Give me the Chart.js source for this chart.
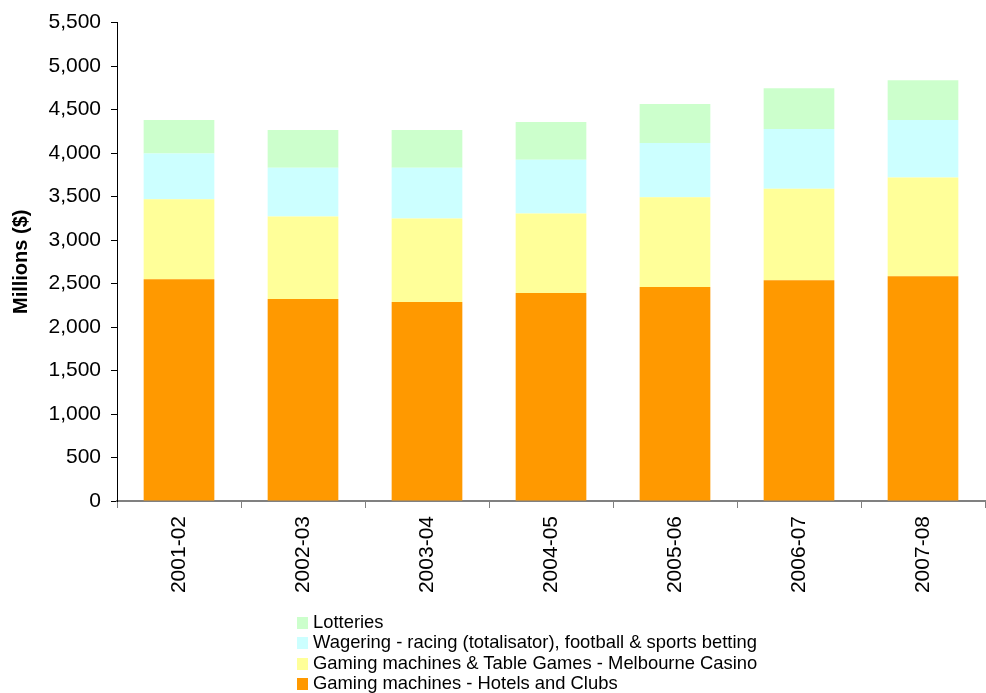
<!DOCTYPE html>
<html>
<head>
<meta charset="utf-8">
<script src="https://cdn.jsdelivr.net/npm/chart.js@4"></script>
<style>
  body { margin: 0; background: #fff; }
  #wrap { position: relative; width: 986px; height: 693px; }
  #legend { position: absolute; left: 297px; top: 612px; font: 18.4px "Liberation Sans", Arial, sans-serif; color: #000; }
  #legend div { height: 20.3px; line-height: 20.3px; white-space: nowrap; }
  #legend span { display: inline-block; width: 11px; height: 12px; margin-right: 5px; vertical-align: -1px; }
</style>
</head>
<body>
<div id="wrap">
  <canvas id="chart" width="986" height="693"></canvas>
  <div id="legend"></div>
</div>
<script>
  const years = ["2001-02", "2002-03", "2003-04", "2004-05", "2005-06", "2006-07", "2007-08"];
  const hotelsClubs = [2550, 2321, 2287, 2390, 2459, 2539, 2584];
  const casino = [918, 949, 961, 915, 1032, 1052, 1136];
  const wagering = [526, 561, 583, 617, 626, 686, 660];
  const lotteries = [386, 434, 434, 435, 446, 469, 457];

  const font = "'Liberation Sans', Arial, sans-serif";

  const chart = new Chart(document.getElementById("chart"), {
    type: "bar",
    data: {
      labels: years,
      datasets: [
        { label: "Gaming machines - Hotels and Clubs", data: hotelsClubs, backgroundColor: "#ff9900" },
        { label: "Gaming machines & Table Games - Melbourne Casino", data: casino, backgroundColor: "#ffff99" },
        { label: "Wagering - racing (totalisator), football & sports betting", data: wagering, backgroundColor: "#ccffff" },
        { label: "Lotteries", data: lotteries, backgroundColor: "#ccffcc" }
      ]
    },
    options: {
      responsive: false,
      animation: false,
      barPercentage: 0.57,
      categoryPercentage: 1,
      layout: { padding: { top: 20, left: 0, right: 1, bottom: 92 } },
      plugins: {
        legend: { display: false },
        tooltip: { enabled: false }
      },
      scales: {
        x: {
          stacked: true,
          afterFit: s => { s.height = 100; },
          border: { color: "#808080", width: 2 },
          grid: { drawOnChartArea: false, tickLength: 7, color: "#808080" },
          ticks: { minRotation: 90, maxRotation: 90, padding: 8, color: "#000", font: { family: font, size: 21 } }
        },
        y: {
          stacked: true,
          min: 0,
          max: 5500,
          afterFit: s => { s.width = 117; },
          border: { color: "#000", width: 1 },
          grid: { drawOnChartArea: false, tickLength: 6, color: "#000" },
          ticks: {
            stepSize: 500,
            padding: 10,
            color: "#000",
            font: { family: font, size: 21 },
            callback: v => v.toLocaleString("en-US")
          },
          title: {
            display: true,
            text: "Millions ($)",
            color: "#000",
            padding: { top: 9, bottom: 0 },
            font: { family: font, size: 20, weight: "bold" }
          }
        }
      }
    }
  });

  const legend = document.getElementById("legend");
  chart.data.datasets.slice().reverse().forEach(ds => {
    const row = document.createElement("div");
    const box = document.createElement("span");
    box.style.background = ds.backgroundColor;
    row.appendChild(box);
    row.appendChild(document.createTextNode(ds.label));
    legend.appendChild(row);
  });
</script>
</body>
</html>
